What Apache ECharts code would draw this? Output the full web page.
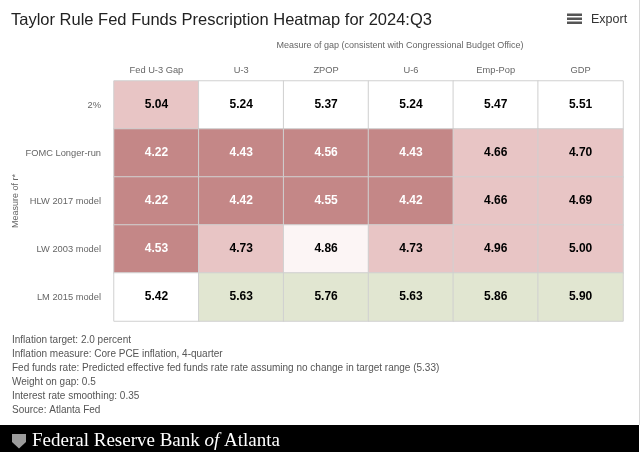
<!DOCTYPE html>
<html><head><meta charset="utf-8">
<script src="https://cdn.jsdelivr.net/npm/echarts@6/dist/echarts.min.js"></script>
<style>html,body{margin:0;padding:0;background:#fff}#c{width:640px;height:452px}</style>
</head><body><div id="c"></div>
<script>
// ---- data ----
const gapMeasures = ['Fed U-3 Gap', 'U-3', 'ZPOP', 'U-6', 'Emp-Pop', 'GDP'];
const rStarMeasures = ['2%', 'FOMC Longer-run', 'HLW 2017 model', 'LW 2003 model', 'LM 2015 model'];
const row2pct = [5.04, 5.24, 5.37, 5.24, 5.47, 5.51];
const rowFOMC = [4.22, 4.43, 4.56, 4.43, 4.66, 4.70];
const rowHLW  = [4.22, 4.42, 4.55, 4.42, 4.66, 4.69];
const rowLW   = [4.53, 4.73, 4.86, 4.73, 4.96, 5.00];
const rowLM   = [5.42, 5.63, 5.76, 5.63, 5.86, 5.90];
// colour class of each cell as seen in the picture: 2 dark red, 1 pink, 0.5 faint pink, 0 white, -1 green
const shade2pct = [1, 0, 0, 0, 0, 0];
const shadeFOMC = [2, 2, 2, 2, 1, 1];
const shadeHLW  = [2, 2, 2, 2, 1, 1];
const shadeLW   = [2, 1, 0.5, 1, 1, 1];
const shadeLM   = [0, -1, -1, -1, -1, -1];
const titleText = 'Taylor Rule Fed Funds Prescription Heatmap for 2024:Q3';
const xAxisTitle = 'Measure of gap (consistent with Congressional Budget Office)';
const yAxisTitle = 'Measure of r*';
const footnotes = [
  'Inflation target: 2.0 percent',
  'Inflation measure: Core PCE inflation, 4-quarter',
  'Fed funds rate: Predicted effective fed funds rate rate assuming no change in target range (5.33)',
  'Weight on gap: 0.5',
  'Interest rate smoothing: 0.35',
  'Source: Atlanta Fed'
];

const rows = [row2pct, rowFOMC, rowHLW, rowLW, rowLM];
const shades = [shade2pct, shadeFOMC, shadeHLW, shadeLW, shadeLM];
const FONT = '"Liberation Sans", Arial, Helvetica, sans-serif';

const data = [];
rows.forEach((r, yi) => r.forEach((v, xi) => {
  const s = shades[yi][xi];
  data.push({ value: [xi, yi, v, s], label: { color: s === 2 ? '#ffffff' : '#000000' } });
}));

const graphics = [
  { type: 'rect', shape: { x: 0, y: 425, width: 639, height: 27 }, style: { fill: '#000' } },
  { type: 'line', shape: { x1: 639.5, y1: 0, x2: 639.5, y2: 425 }, style: { stroke: '#d8d8d8', lineWidth: 1 } },
  { type: 'rect', shape: { x: 567, y: 13.5, width: 15, height: 2.5 }, style: { fill: '#555' } },
  { type: 'rect', shape: { x: 567, y: 17.5, width: 15, height: 2.5 }, style: { fill: '#555' } },
  { type: 'rect', shape: { x: 567, y: 21.5, width: 15, height: 2.5 }, style: { fill: '#555' } },
  { type: 'text', x: 591, y: 20, style: { text: 'Export', fontSize: 12.5, fontFamily: FONT, fill: '#333', verticalAlign: 'middle' } },
  { type: 'text', x: 400, y: 46, style: { text: xAxisTitle, fontSize: 9, fontFamily: FONT, fill: '#666', align: 'center', verticalAlign: 'middle' } },
  { type: 'text', x: 15.5, y: 201, rotation: Math.PI / 2, style: { text: yAxisTitle, fontSize: 9, fontFamily: FONT, fill: '#666', align: 'center', verticalAlign: 'middle' } },
  { type: 'polygon', shape: { points: [[12, 434], [26, 434], [26, 442], [19, 448.5], [12, 442]] }, style: { fill: '#9c9c9c' } },
  { type: 'text', x: 32, y: 441, style: {
      text: '{a|Federal Reserve Bank }{b|of}{a| Atlanta}',
      verticalAlign: 'middle',
      rich: {
        a: { fontFamily: '"Liberation Serif", "Times New Roman", serif', fontSize: 19, fill: '#fff', color: '#fff' },
        b: { fontFamily: '"Liberation Serif", "Times New Roman", serif', fontSize: 19, fontStyle: 'italic', fill: '#fff', color: '#fff' }
      } } }
];
footnotes.forEach((t, i) => graphics.push({
  type: 'text', x: 12, y: 340 + i * 14,
  style: { text: t, fontSize: 10, fontFamily: FONT, fill: '#555', verticalAlign: 'middle' }
}));

const chart = echarts.init(document.getElementById('c'), null, { renderer: 'canvas' });
chart.setOption({
  animation: false,
  backgroundColor: '#fff',
  title: { text: titleText, left: 11, top: 12, padding: 0,
    textStyle: { fontSize: 16.5, fontWeight: 'normal', color: '#222', fontFamily: FONT } },
  grid: { left: 114, right: 17, top: 81, bottom: 131 },
  xAxis: { type: 'category', data: gapMeasures, position: 'top',
    axisLine: { show: false }, axisTick: { show: false }, splitArea: { show: false },
    axisLabel: { fontSize: 9.3, color: '#666', fontFamily: FONT, margin: 6 } },
  yAxis: { type: 'category', data: rStarMeasures, inverse: true,
    axisLine: { show: false }, axisTick: { show: false }, splitArea: { show: false },
    axisLabel: { fontSize: 9.3, color: '#666', fontFamily: FONT, margin: 13 } },
  visualMap: { type: 'piecewise', show: false, dimension: 3, seriesIndex: 0,
    pieces: [
      { value: 2, color: '#c48787' },
      { value: 1, color: '#e8c5c5' },
      { value: 0.5, color: '#fcf5f5' },
      { value: 0, color: '#ffffff' },
      { value: -1, color: '#e1e6d1' }
    ] },
  series: [{
    type: 'heatmap', data: data,
    itemStyle: { borderColor: '#d0d0d0', borderWidth: 1 },
    emphasis: { disabled: true },
    label: { show: true, fontSize: 12, fontWeight: 'bold', fontFamily: FONT,
      formatter: p => p.value[2].toFixed(2) }
  }],
  graphic: graphics
});
</script>
</body></html>
